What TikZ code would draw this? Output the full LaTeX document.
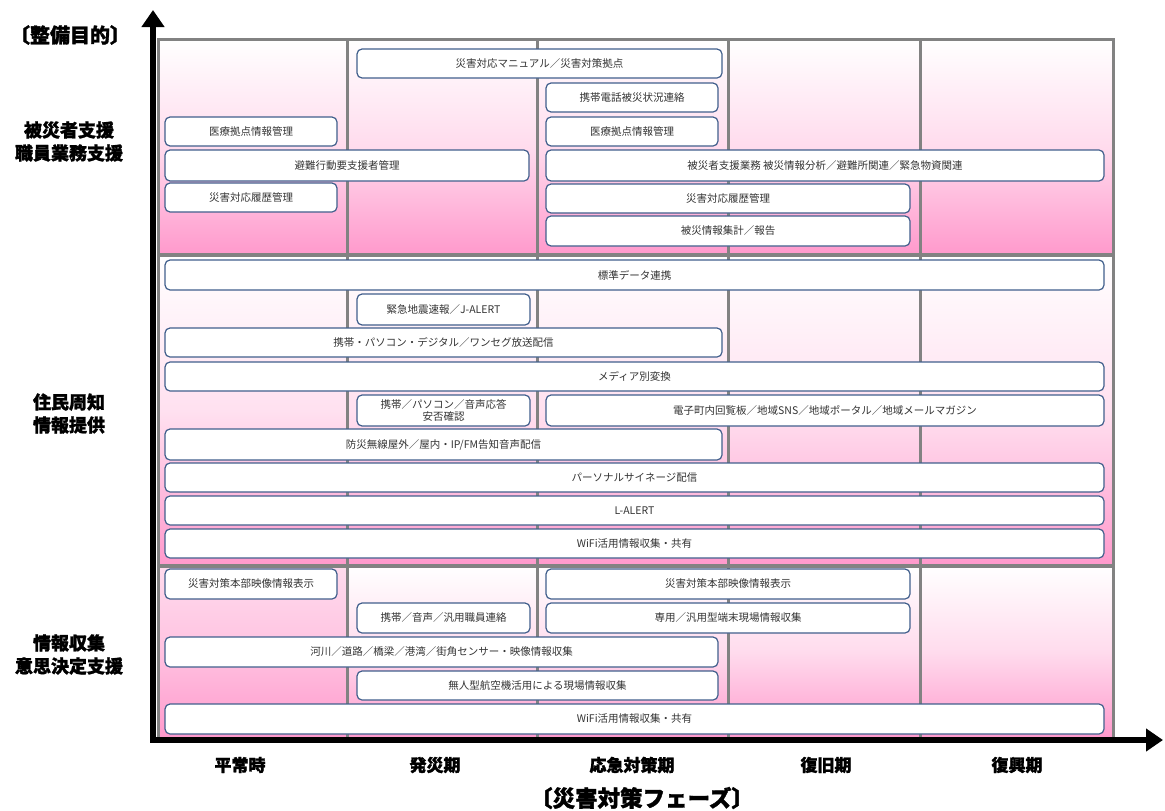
\documentclass[tikz,border=0pt]{standalone}
\usepackage{fontspec}
\setmainfont{Noto Sans CJK JP}
\newfontfamily\heavyjp[BoldFeatures={FakeBold=1.5}]{Noto Sans CJK JP}
\usetikzlibrary{arrows.meta}
\definecolor{pinkb}{RGB}{255,153,204}
\definecolor{gridc}{RGB}{130,130,130}
\definecolor{boxc}{RGB}{65,95,140}
\tikzset{
 bx/.style={draw=boxc, fill=white, rounded corners=5pt, line width=1.2pt, inner sep=0pt, align=center, font=\fontsize{10.5}{13}\selectfont, text=black!80},
 lab/.style={font=\heavyjp\bfseries\fontsize{18}{23}\selectfont, align=center, text=black},
 phase/.style={font=\heavyjp\bfseries\fontsize{17}{20}\selectfont, text=black},
 bigl/.style={font=\heavyjp\bfseries\fontsize{22.5}{24}\selectfont, text=black},
 topl/.style={font=\heavyjp\bfseries\fontsize{20}{24}\selectfont, text=black},
 gridl/.style={draw=gridc, line width=3pt},
 axisl/.style={line width=6pt, line cap=rect, -{Triangle[length=17pt,width=22pt]}},
}
\newcommand\mybx[6]{\node[bx, minimum width={#4-#2}, minimum height={#5-#3}] (#1) at ({(#2+#4)/2},{(#3+#5)/2}) {#6};}
\begin{document}
\begin{tikzpicture}[x=1pt,y=-1pt]
\useasboundingbox (0,0) rectangle (1165,811);
% section backgrounds
\shade[top color=white, bottom color=pinkb, middle color=pinkb!35] (158,39) rectangle (1113,255);
\shade[top color=white, bottom color=pinkb, middle color=pinkb!30] (158,255) rectangle (1113,566);
\shade[top color=white, bottom color=pinkb, middle color=pinkb!35] (158,566) rectangle (1113,738);
\shade[top color=pinkb!35, bottom color=pinkb, middle color=pinkb!60] (158,566) rectangle (347,738);
% grid
\draw[gridl] (158,39) rectangle (1113,738);
\draw[gridl, line width=4pt] (158,255) -- (1113,255);
\draw[gridl, line width=4pt] (158,566) -- (1113,566);
\foreach \cx in {347,537,728,920} {\draw[gridl] (\cx,39) -- (\cx,738);}
% section 1
\mybx{a1}{357}{49}{722}{78}{災害対応マニュアル／災害対策拠点}
\mybx{a2}{546}{83}{718}{112}{携帯電話被災状況連絡}
\mybx{a3}{165}{117}{337}{146}{医療拠点情報管理}
\mybx{a4}{546}{117}{718}{146}{医療拠点情報管理}
\mybx{a5}{165}{150}{529}{181}{避難行動要支援者管理}
\mybx{a6}{546}{150}{1104}{181}{被災者支援業務 被災情報分析／避難所関連／緊急物資関連}
\mybx{a7}{165}{183}{337}{212}{災害対応履歴管理}
\mybx{a8}{546}{184}{910}{213}{災害対応履歴管理}
\mybx{a9}{546}{216}{910}{246}{被災情報集計／報告}
% section 2
\mybx{b1}{165}{260}{1104}{290}{標準データ連携}
\mybx{b2}{357}{294}{530}{325}{緊急地震速報／J-ALERT}
\mybx{b3}{165}{328}{722}{357}{携帯・パソコン・デジタル／ワンセグ放送配信}
\mybx{b4}{165}{362}{1104}{391}{メディア別変換}
\mybx{b5}{357}{395}{530}{426}{携帯／パソコン／音声応答\\[-1pt]安否確認}
\mybx{b6}{546}{395}{1104}{426}{電子町内回覧板／地域SNS／地域ポータル／地域メールマガジン}
\mybx{b7}{165}{429}{722}{460}{防災無線屋外／屋内・IP/FM告知音声配信}
\mybx{b8}{165}{463}{1104}{492}{パーソナルサイネージ配信}
\mybx{b9}{165}{496}{1104}{525}{L-ALERT}
\mybx{b10}{165}{529}{1104}{558}{WiFi活用情報収集・共有}
% section 3
\mybx{c1}{165}{569}{337}{599}{災害対策本部映像情報表示}
\mybx{c2}{546}{569}{910}{599}{災害対策本部映像情報表示}
\mybx{c3}{357}{603}{530}{633}{携帯／音声／汎用職員連絡}
\mybx{c4}{546}{603}{910}{633}{専用／汎用型端末現場情報収集}
\mybx{c5}{165}{637}{718}{667}{河川／道路／橋梁／港湾／街角センサー・映像情報収集}
\mybx{c6}{357}{671}{718}{700}{無人型航空機活用による現場情報収集}
\mybx{c7}{165}{704}{1104}{734}{WiFi活用情報収集・共有}
% axes
\coordinate (origin) at (153,740);
\coordinate (ytop) at (153,10);
\coordinate (xend) at (1163,740);
\draw[axisl] (origin) -- (ytop);
\draw[axisl] (origin) -- (xend);
% labels
\node[topl] (t0) at (70,35) {〔整備目的〕};
\node[lab] (t1) at (69,141.5) {被災者支援\\職員業務支援};
\node[lab] (t2) at (69,413.5) {住民周知\\情報提供};
\node[lab] (t3) at (69,654.5) {情報収集\\意思決定支援};
\node[phase] (p1) at (240,765) {平常時};
\node[phase] (p2) at (435,765) {発災期};
\node[phase] (p3) at (632,765) {応急対策期};
\node[phase] (p4) at (826,765) {復旧期};
\node[phase] (p5) at (1017,765) {復興期};
\node[bigl] (t9) at (642,798) {〔災害対策フェーズ〕};
\end{tikzpicture}
\end{document}
